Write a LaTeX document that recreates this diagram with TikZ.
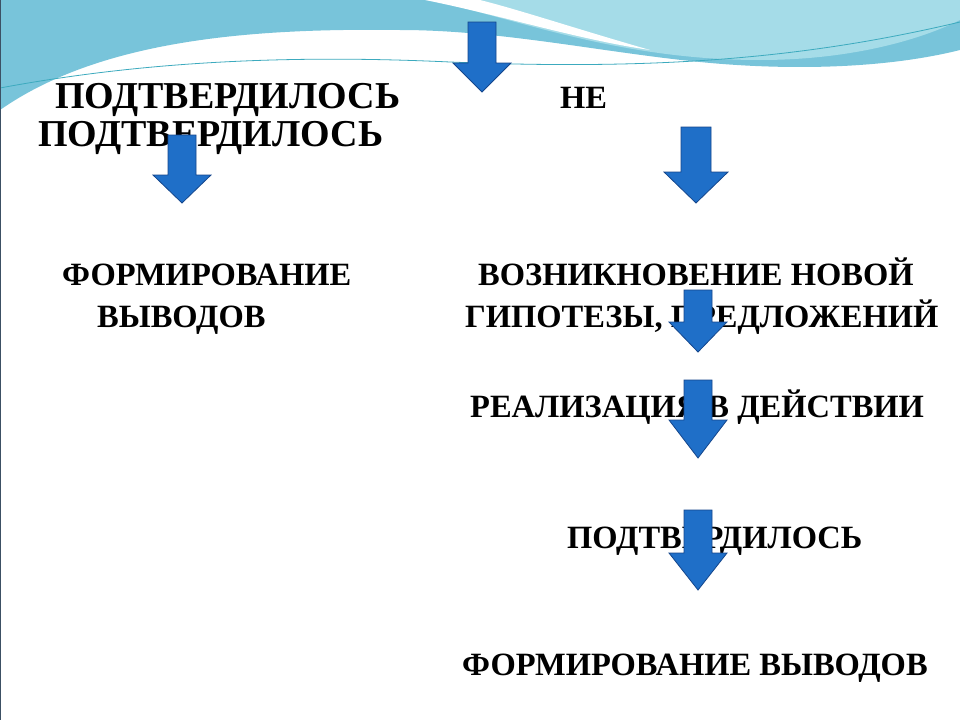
\documentclass[tikz,border=0pt]{standalone}
\usepackage{fontspec}
\setmainfont{Liberation Serif}
\definecolor{wave1}{RGB}{120,196,218}
\definecolor{wave2}{RGB}{165,220,232}
\definecolor{wline}{RGB}{60,170,190}
\definecolor{frame}{RGB}{60,80,100}
\definecolor{arrfill}{RGB}{31,111,200}
\definecolor{arrdraw}{RGB}{20,70,140}
\begin{document}
\begin{tikzpicture}[x=1pt,y=-1pt,
  lbl/.style={anchor=base west,inner sep=0,font=\fontsize{32.5}{32}\bfseries},
  big/.style={lbl,font=\fontsize{38}{38}\bfseries},
  arr/.style={fill=arrfill,draw=arrdraw,line width=0.8pt}]
\useasboundingbox (0,0) rectangle (960,720);
\fill[white] (0,0) rectangle (960,720);
% waves
\fill[wave1] (0,0) -- (960,0) -- (960,50) .. controls (880,70) and (780,70) .. (700,62)
  .. controls (600,52) and (500,30) .. (400,30) .. controls (250,28) and (100,40) .. (0,110) -- cycle;
\fill[wave2] (430,0) .. controls (520,20) and (620,60) .. (760,60) .. controls (850,60) and (920,40) .. (960,20) -- (960,0) -- cycle;
\fill[white] (425,0) .. controls (500,15) and (580,40) .. (650,50) .. controls (580,30) and (520,10) .. (480,0) -- cycle;
\draw[wline,line width=0.8pt] (0,88) .. controls (150,60) and (300,55) .. (450,62) .. controls (650,70) and (800,60) .. (960,22);
\draw[frame,line width=1pt] (0.5,0) -- (0.5,720);
% texts
\node[big] (t1) at (55,108) {ПОДТВЕРДИЛОСЬ};
\node[lbl] (t2) at (560,108) {НЕ};
\node[big] (t3) at (38,146) {ПОДТВЕРДИЛОСЬ};
\node[lbl] (t4) at (62,285) {ФОРМИРОВАНИЕ};
\node[lbl] (t5) at (97,327) {ВЫВОДОВ};
\node[lbl] (t6) at (478,285) {ВОЗНИКНОВЕНИЕ НОВОЙ};
\node[lbl] (t7) at (465,327) {ГИПОТЕЗЫ, ПРЕДЛОЖЕНИЙ};
\node[lbl] (t8) at (470,417) {РЕАЛИЗАЦИЯ В ДЕЙСТВИИ};
\node[lbl] (t9) at (567,548) {ПОДТВЕРДИЛОСЬ};
\node[lbl] (t10) at (462,675) {ФОРМИРОВАНИЕ ВЫВОДОВ};
% arrows
\newcommand\barrow[6]{%
  \filldraw[arr] ({#1-#5},#2) -- ({#1+#5},#2) -- ({#1+#5},#3) -- ({#1+#6},#3) -- (#1,#4) -- ({#1-#6},#3) -- ({#1-#5},#3) -- cycle;}
\barrow{482}{22}{63}{92}{14}{29}
\barrow{182}{135}{175}{203}{14}{29}
\barrow{696}{127}{172}{203}{15}{32}
\barrow{698}{290}{322}{352}{14}{29}
\barrow{698}{380}{420}{458}{14}{29}
\barrow{698}{510}{553}{590}{14}{29}
\end{tikzpicture}
\end{document}
